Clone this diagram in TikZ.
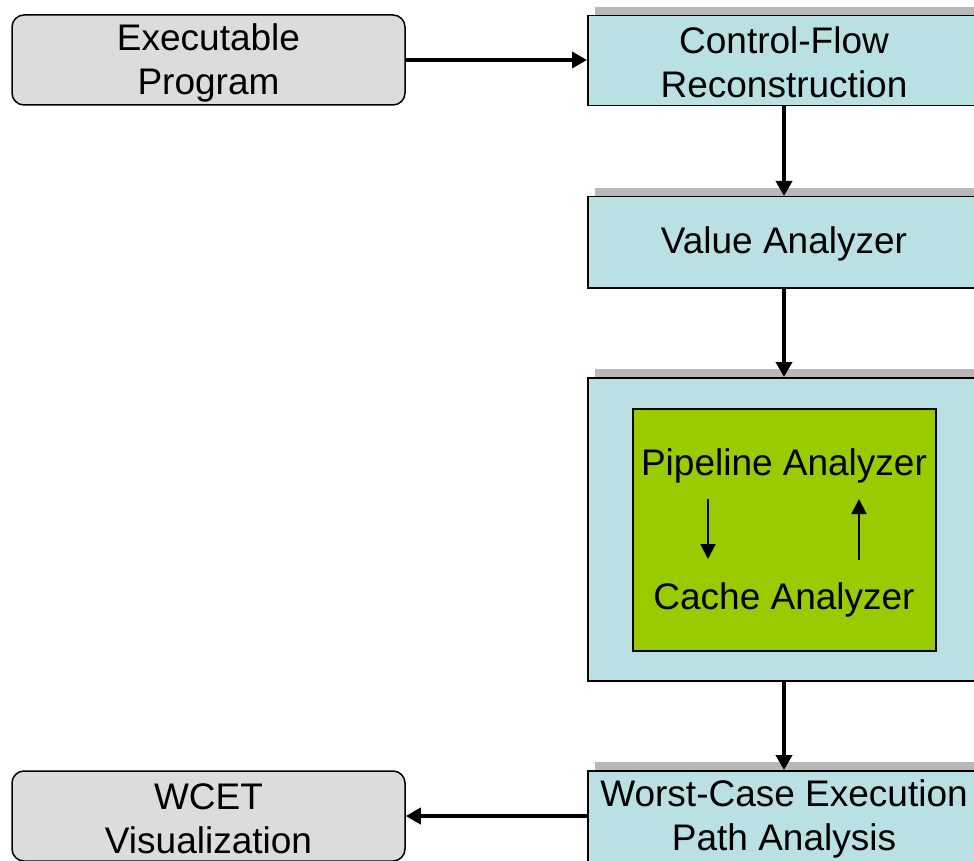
\documentclass[tikz,border=0pt]{standalone}
\usepackage{fontspec}
\setmainfont{Liberation Sans}
\usetikzlibrary{arrows.meta}
\definecolor{teal}{HTML}{B9E0E3}
\definecolor{grayfill}{HTML}{DCDCDC}
\definecolor{green}{HTML}{99CC00}
\definecolor{shadowgray}{HTML}{B8B8B8}
\begin{document}
\begin{tikzpicture}[x=1pt,y=-1pt,
  txt/.style={font=\fontsize{37}{44}\selectfont, align=center, inner sep=0pt, yshift=-2.5pt},
  graybox/.style={draw=black, line width=1.5pt, fill=grayfill, rounded corners=12pt, minimum width=393pt, minimum height=90pt},
  tealbox/.style={draw=black, line width=1.5pt, fill=teal, anchor=north west, minimum width=400pt},
  shadowbox/.style={fill=shadowgray, draw=none},
  arr/.style={line width=3.6pt, -{Triangle[length=15pt,width=16pt]}},
  thinarr/.style={line width=2pt, -{Triangle[length=15pt,width=15pt]}}
]
\useasboundingbox (0,0) rectangle (974,861);
\clip (0,0) rectangle (974,861);
% shadows
\fill[shadowbox] (595,7) rectangle (990,96);
\fill[shadowbox] (595,188) rectangle (990,278);
\fill[shadowbox] (595,369) rectangle (990,671);
\fill[shadowbox] (595,762) rectangle (990,870);
% nodes
\node[graybox] (exe) at (208.5,60) {};
\node[txt] (exet) at (208.5,60) {Executable\\Program};
\node[graybox] (vis) at (208.5,816) {};
\node[txt] (vist) at (208.5,816) {WCET\\Visualization};
\node[tealbox, minimum height=90pt] (cfr) at (587,15) {};
\node[txt] (cfrt) at (784,60) {Control-Flow\\Reconstruction};
\node[tealbox, minimum height=91pt] (val) at (587,196) {};
\node[txt] (valt) at (784,241.5) {Value Analyzer};
\node[tealbox, minimum height=303pt] (big) at (587,377) {};
\node[draw=black, line width=1.5pt, fill=green, anchor=north west, minimum width=303pt, minimum height=242pt] (grn) at (632,408) {};
\node[txt] (pip) at (784,463) {Pipeline Analyzer};
\node[txt] (cac) at (784,597) {Cache Analyzer};
\node[tealbox, minimum height=100pt] (wce) at (587,770) {};
\node[txt] (wcet) at (784,816) {Worst-Case Execution\\Path Analysis};
\coordinate (d1) at (708,499);
\coordinate (d2) at (708,559);
\coordinate (u1) at (859,560);
\coordinate (u2) at (859,499);
% connectors
\draw[arr] (exe.east) -- (exe.east -| cfr.west);
\draw[arr] (cfr.south -| cfrt) -- (val.north -| cfrt);
\draw[arr] (val.south -| valt) -- (big.north -| valt);
\draw[arr] (big.south -| valt) -- (wce.north -| valt);
\draw[arr] (wce.west |- vis.east) -- (vis.east);
\draw[thinarr] (d1) -- (d2);
\draw[thinarr] (u1) -- (u2);
\end{tikzpicture}
\end{document}
